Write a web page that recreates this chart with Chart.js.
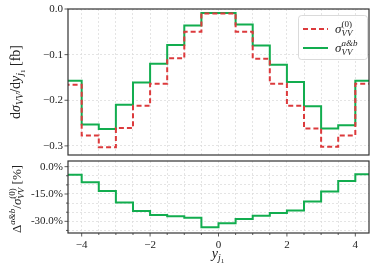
<!DOCTYPE html>
<html>
<head>
<meta charset="utf-8">
<script src="https://cdn.jsdelivr.net/npm/chart.js@4"></script>
<style>
  body { margin: 0; background: #fff; }
  #wrap { position: relative; width: 378px; height: 272px; }
  canvas { position: absolute; left: 0; }
</style>
</head>
<body>
<div id="wrap">
  <canvas id="topChart" width="378" height="160" style="top:0px"></canvas>
  <canvas id="botChart" width="378" height="112" style="top:160px"></canvas>
</div>
<script>
// bin edges in y_j1 (18 bins of width 0.5)
const binEdges = [-4.5, -4, -3.5, -3, -2.5, -2, -1.5, -1, -0.5, 0, 0.5, 1, 1.5, 2, 2.5, 3, 3.5, 4, 4.5];
// dsigma/dy [fb], LO
const sigmaLO = [-0.166, -0.277, -0.303, -0.261, -0.212, -0.164, -0.108, -0.050, -0.010,
                 -0.010, -0.050, -0.109, -0.164, -0.212, -0.262, -0.302, -0.277, -0.164];
// dsigma/dy [fb], a&b
const sigmaAB = [-0.157, -0.253, -0.263, -0.210, -0.161, -0.120, -0.079, -0.036, -0.009,
                 -0.009, -0.034, -0.080, -0.122, -0.160, -0.213, -0.262, -0.255, -0.157];
// relative correction in %
const deltaPct = [-4.4, -8.5, -13.3, -19.7, -24.3, -26.5, -27.2, -28.0, -33.3,
                  -31.1, -28.7, -26.9, -25.4, -24.1, -19.1, -13.6, -7.9, -4.2];

const FONT = '"Liberation Serif", "DejaVu Serif", serif';
const RED = '#dc3a3c';
const GREEN = '#12ad4f';
const GRIDCOL = '#dedede';

// Stufen: Wert des Bins an der linken Kante, letzter Wert an der rechten Kante wiederholt
function steps(vals) {
  return binEdges.map((x, i) => ({ x: x, y: vals[Math.min(i, vals.length - 1)] }));
}

// kleiner Helfer fuer Text mit Hoch-/Tiefstellung
function segW(ctx, s) {
  if (s.stack) return Math.max(...s.stack.map(c => segW(ctx, c)));
  ctx.font = (s.i ? 'italic ' : '') + s.s + 'px ' + FONT;
  return ctx.measureText(s.t).width;
}
function drawSeg(ctx, s, x, y) {
  if (s.stack) {
    s.stack.forEach(c => drawSeg(ctx, c, x, y));
    return segW(ctx, s);
  }
  ctx.font = (s.i ? 'italic ' : '') + s.s + 'px ' + FONT;
  ctx.fillText(s.t, x, y + (s.dy || 0));
  return ctx.measureText(s.t).width;
}
function drawRich(ctx, segs, x, y, center) {
  const w = segs.reduce((a, s) => a + segW(ctx, s), 0);
  let cx = center ? x - w / 2 : x;
  ctx.textAlign = 'left';
  ctx.textBaseline = 'alphabetic';
  ctx.fillStyle = '#222';
  segs.forEach(s => { cx += drawSeg(ctx, s, cx, y); });
}

const titleTop = [
  { t: 'd', s: 14 }, { t: 'σ', s: 14, i: 1 }, { t: 'VV', s: 10, i: 1, dy: 3 },
  { t: '/d', s: 14 }, { t: 'y', s: 14, i: 1 }, { t: 'j', s: 10, i: 1, dy: 3 }, { t: '1', s: 7, dy: 5 },
  { t: ' [fb]', s: 14 }
];
const titleBot = [
  { t: 'Δ', s: 13 }, { t: 'a&b', s: 9, i: 1, dy: -6 }, { t: '/', s: 13 }, { t: 'σ', s: 13, i: 1 },
  { stack: [{ t: '(0)', s: 9, dy: -6 }, { t: 'VV', s: 9, i: 1, dy: 3 }] },
  { t: ' [%]', s: 13 }
];
const titleX = [{ t: 'y', s: 14, i: 1 }, { t: 'j', s: 10, i: 1, dy: 3 }, { t: '1', s: 7, dy: 5 }];
const legLO = [{ t: 'σ', s: 13, i: 1 }, { stack: [{ t: '(0)', s: 9, dy: -6 }, { t: 'VV', s: 9, i: 1, dy: 3 }] }];
const legAB = [{ t: 'σ', s: 13, i: 1 }, { stack: [{ t: 'a&b', s: 9, i: 1, dy: -6 }, { t: 'VV', s: 9, i: 1, dy: 3 }] }];

function drawTicks(chart, id, isMajor) {
  const sc = chart.scales[id], a = chart.chartArea, ctx = chart.ctx;
  ctx.save();
  ctx.strokeStyle = '#333';
  ctx.lineWidth = 0.8;
  sc.ticks.forEach(tk => {
    const p = sc.getPixelForValue(tk.value);
    const len = isMajor(tk.value) ? 3.5 : 2;
    ctx.beginPath();
    if (sc.isHorizontal()) { ctx.moveTo(p, a.bottom); ctx.lineTo(p, a.bottom + len); }
    else { ctx.moveTo(a.left, p); ctx.lineTo(a.left - len, p); }
    ctx.stroke();
  });
  ctx.restore();
}
function drawFrame(chart) {
  const a = chart.chartArea, ctx = chart.ctx;
  ctx.save();
  ctx.strokeStyle = '#333';
  ctx.lineWidth = 1.2;
  ctx.strokeRect(a.left, a.top, a.right - a.left, a.bottom - a.top);
  ctx.restore();
}

const yFit = s => { s.width = 68; s.paddingTop = 0; s.paddingBottom = 0; };
const tickFont = { family: FONT, size: 11 };

// oberes Panel
new Chart(document.getElementById('topChart'), {
  type: 'line',
  data: {
    datasets: [
      { data: steps(sigmaLO), borderColor: RED, borderWidth: 2, borderDash: [5, 3], stepped: 'before', pointRadius: 0 },
      { data: steps(sigmaAB), borderColor: GREEN, borderWidth: 2, stepped: 'before', pointRadius: 0 }
    ]
  },
  options: {
    responsive: false,
    animation: false,
    layout: { padding: { left: 0, top: 9, right: 9, bottom: 5 } },
    plugins: { legend: { display: false }, tooltip: { enabled: false } },
    scales: {
      x: {
        type: 'linear', min: -4.4, max: 4.4,
        ticks: { display: false, stepSize: 0.5, includeBounds: false },
        grid: { color: GRIDCOL, lineWidth: 0.8, drawTicks: false },
        border: { display: false, dash: [2, 2] },
        afterFit: s => { s.height = 0; s.paddingLeft = 0; s.paddingRight = 0; }
      },
      y: {
        min: -0.32, max: 0.0,
        ticks: {
          stepSize: 0.1, includeBounds: false, padding: 5, color: '#222', font: tickFont,
          callback: v => (v < 0 ? '−' : '') + Math.abs(v).toFixed(1)
        },
        grid: { color: GRIDCOL, lineWidth: 0.8, drawTicks: false },
        border: { display: false, dash: [2, 2] },
        afterFit: yFit
      }
    }
  },
  plugins: [{
    id: 'deko',
    afterDraw(chart) {
      const ctx = chart.ctx;
      drawFrame(chart);
      drawTicks(chart, 'y', () => true);
      ctx.save();
      ctx.translate(20, 82);
      ctx.rotate(-Math.PI / 2);
      drawRich(ctx, titleTop, 0, 0, true);
      ctx.restore();
      // Legende
      ctx.save();
      ctx.beginPath();
      ctx.roundRect(298.5, 15.5, 69, 44, 3);
      ctx.fillStyle = 'rgba(255,255,255,0.85)';
      ctx.fill();
      ctx.strokeStyle = '#d0d0d0';
      ctx.lineWidth = 0.8;
      ctx.stroke();
      ctx.lineWidth = 2;
      ctx.strokeStyle = RED;
      ctx.setLineDash([5, 3]);
      ctx.beginPath(); ctx.moveTo(303, 29); ctx.lineTo(328, 29); ctx.stroke();
      ctx.setLineDash([]);
      ctx.strokeStyle = GREEN;
      ctx.beginPath(); ctx.moveTo(303, 48); ctx.lineTo(328, 48); ctx.stroke();
      drawRich(ctx, legLO, 335, 33, false);
      drawRich(ctx, legAB, 335, 52, false);
      ctx.restore();
    }
  }]
});

// unteres Panel
new Chart(document.getElementById('botChart'), {
  type: 'line',
  data: {
    datasets: [
      { data: steps(deltaPct), borderColor: GREEN, borderWidth: 2, stepped: 'before', pointRadius: 0 }
    ]
  },
  options: {
    responsive: false,
    animation: false,
    layout: { padding: { left: 0, top: 1, right: 9, bottom: 0 } },
    plugins: { legend: { display: false }, tooltip: { enabled: false } },
    scales: {
      x: {
        type: 'linear', min: -4.4, max: 4.4,
        ticks: {
          stepSize: 0.5, includeBounds: false, padding: 6, color: '#222', font: tickFont,
          maxRotation: 0, autoSkip: false,
          callback: v => (v % 2 === 0 ? (v < 0 ? '−' : '') + Math.abs(v) : '')
        },
        grid: { color: GRIDCOL, lineWidth: 0.8, drawTicks: false },
        border: { display: false, dash: [2, 2] },
        afterFit: s => { s.height = 39; s.paddingLeft = 0; s.paddingRight = 0; }
      },
      y: {
        min: -36.4, max: 3.1,
        ticks: {
          stepSize: 5, includeBounds: false, padding: 5, color: '#222', font: tickFont, autoSkip: false,
          callback: v => (v % 15 === 0 ? v.toFixed(1) + '%' : '')
        },
        grid: { color: GRIDCOL, lineWidth: 0.8, drawTicks: false },
        border: { display: false, dash: [2, 2] },
        afterFit: yFit
      }
    }
  },
  plugins: [{
    id: 'deko',
    afterDraw(chart) {
      const ctx = chart.ctx;
      drawFrame(chart);
      drawTicks(chart, 'x', v => v % 2 === 0);
      drawTicks(chart, 'y', v => v % 15 === 0);
      ctx.save();
      ctx.translate(21, 39);
      ctx.rotate(-Math.PI / 2);
      drawRich(ctx, titleBot, 0, 0, true);
      ctx.restore();
      ctx.save();
      drawRich(ctx, titleX, 218, 98, true);
      ctx.restore();
    }
  }]
});
</script>
</body>
</html>
